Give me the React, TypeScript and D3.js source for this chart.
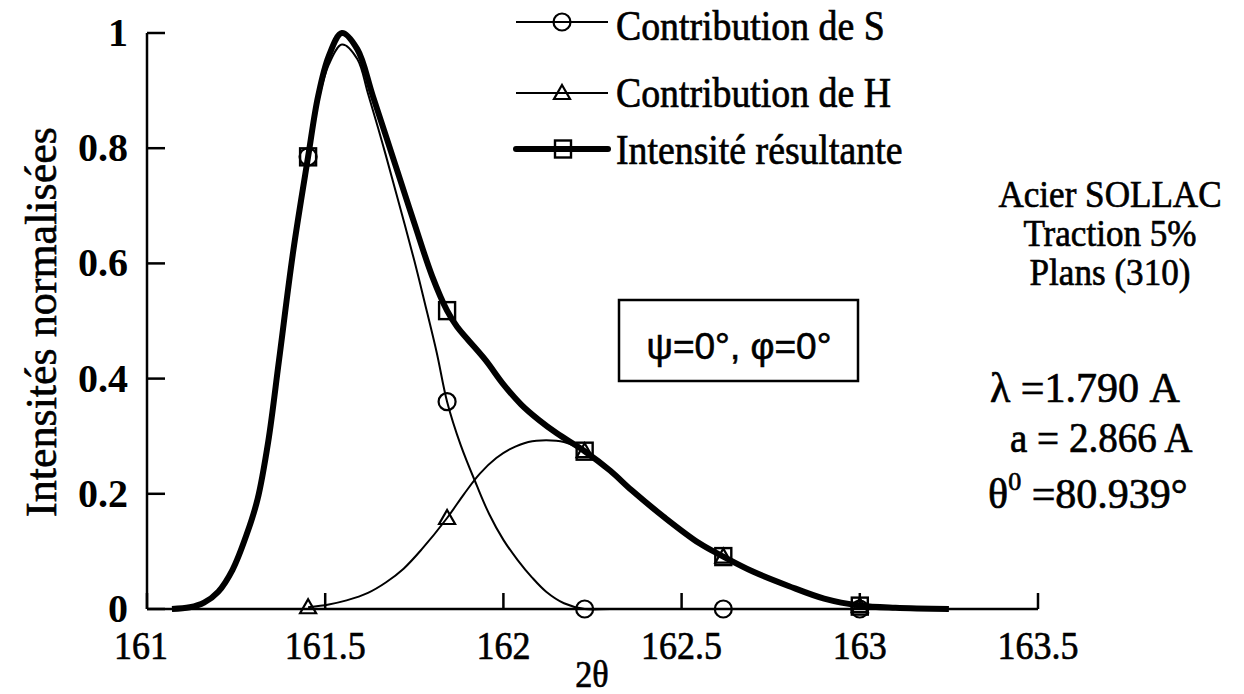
import React from "react";
import * as d3 from "d3";

// tick values
const xTicks = [161, 161.5, 162, 162.5, 163, 163.5];
const yTicks = [0, 0.2, 0.4, 0.6, 0.8, 1];

// measured points (markers)
const markerX = [161.452, 161.842, 162.228, 162.617, 163.0];
const sMarkers = [0.785, 0.36, 0, 0, 0];
const hMarkers = [0.003, 0.158, 0.274, 0.091, 0.005];
const totalMarkers = [0.785, 0.518, 0.274, 0.091, 0.005];

// fitted curves
const totalX = [161.07, 161.12, 161.16, 161.2, 161.24, 161.28, 161.31, 161.34, 161.37, 161.41, 161.452, 161.48, 161.51, 161.547, 161.59, 161.634, 161.7, 161.75, 161.8, 161.842, 161.87, 161.9, 161.95, 162.0, 162.05, 162.1, 162.15, 162.228, 162.3, 162.36, 162.45, 162.55, 162.617, 162.7, 162.8, 162.9, 163.0, 163.1, 163.25];
const totalY = [0, 0.003, 0.011, 0.03, 0.068, 0.13, 0.19, 0.29, 0.43, 0.62, 0.785, 0.89, 0.96, 1.0, 0.972, 0.89, 0.765, 0.67, 0.578, 0.518, 0.49, 0.468, 0.432, 0.39, 0.355, 0.328, 0.305, 0.274, 0.24, 0.206, 0.16, 0.114, 0.091, 0.065, 0.04, 0.018, 0.006, 0.002, 0];

const sX = [161.07, 161.12, 161.16, 161.2, 161.24, 161.28, 161.31, 161.34, 161.37, 161.41, 161.452, 161.48, 161.51, 161.547, 161.59, 161.62, 161.66, 161.7, 161.75, 161.78, 161.813, 161.842, 161.88, 161.925, 161.96, 162.0, 162.04, 162.08, 162.12, 162.17, 162.228, 162.3, 162.617, 163.0];
const sY = [0, 0.003, 0.011, 0.03, 0.068, 0.13, 0.19, 0.29, 0.43, 0.62, 0.785, 0.88, 0.945, 0.98, 0.955, 0.895, 0.81, 0.72, 0.605, 0.53, 0.445, 0.36, 0.285, 0.215, 0.165, 0.12, 0.085, 0.055, 0.03, 0.01, 0, 0, 0, 0];

const hX = [161.452, 161.51, 161.56, 161.62, 161.67, 161.72, 161.77, 161.842, 161.89, 161.934, 161.98, 162.02, 162.07, 162.12, 162.17, 162.228, 162.3, 162.36, 162.45, 162.55, 162.617, 162.7, 162.8, 162.9, 163.0];
const hY = [0.003, 0.008, 0.015, 0.028, 0.046, 0.07, 0.103, 0.158, 0.2, 0.235, 0.262, 0.278, 0.29, 0.293, 0.29, 0.274, 0.24, 0.206, 0.16, 0.114, 0.091, 0.065, 0.04, 0.018, 0.006];

const legendLabels = ["Contribution de S", "Contribution de H", "Intensité résultante"];
const infoLines = ["Acier SOLLAC", "Traction 5%", "Plans (310)"];

const serif = "'Liberation Serif', 'Times New Roman', serif";
const sans = "'Liberation Sans', Arial, sans-serif";

const T = ({ x, y, size, anchor = "start", weight = "normal", family = serif, sx = 0.9, children }: any) => (
  <text
    transform={`translate(${x},${y}) scale(${sx},1)`}
    fontSize={size}
    fontFamily={family}
    fontWeight={weight}
    textAnchor={anchor}
    fill="#000"
    stroke="#000"
    strokeWidth={0.7}
  >
    {children}
  </text>
);

const Circle = ({ x, y }: any) => <circle cx={x} cy={y} r={8.5} fill="none" stroke="#000" strokeWidth={2.2} />;
const Tri = ({ x, y }: any) => (
  <path d={`M${x},${y - 8}L${x + 8},${y + 6}L${x - 8},${y + 6}Z`} fill="none" stroke="#000" strokeWidth={2.2} />
);
const Square = ({ x, y }: any) => <rect x={x - 8} y={y - 8.5} width={16} height={17} fill="none" stroke="#000" strokeWidth={2.4} />;

export default function App() {
  const x = d3.scaleLinear().domain([161, 163.5]).range([147, 1038]);
  const y = d3.scaleLinear().domain([0, 1]).range([609, 33]);

  const line = d3
    .line<[number, number]>()
    .x((d) => x(d[0]))
    .y((d) => y(d[1]))
    .curve(d3.curveCatmullRom.alpha(0.5));

  const total = line(totalX.map((v, i) => [v, totalY[i]]));
  const sCurve = line(sX.map((v, i) => [v, sY[i]]));
  const hCurve = line(hX.map((v, i) => [v, hY[i]]));

  const legendY = [22, 93, 149];
  const legendBase = [40, 107, 164];

  return (
    <svg width={1244} height={694} style={{ position: "absolute", left: 0, top: 0, background: "#fff" }}>
      {/* axes */}
      <line x1={x(161)} x2={x(163.5)} y1={y(0)} y2={y(0)} stroke="#000" strokeWidth={2.5} />
      <line x1={x(161)} x2={x(161)} y1={y(0)} y2={y(1)} stroke="#000" strokeWidth={2.5} />
      {yTicks.map((t) => (
        <g key={"y" + t}>
          <line x1={x(161)} x2={x(161) + 18} y1={y(t)} y2={y(t)} stroke="#000" strokeWidth={2.5} />
          <text x={128} y={y(t) + 13} fontSize={40} fontFamily={serif} fontWeight="bold" textAnchor="end">
            {t}
          </text>
        </g>
      ))}
      {xTicks.map((t) => (
        <g key={"x" + t}>
          <line x1={x(t)} x2={x(t)} y1={y(0)} y2={y(0) - 16} stroke="#000" strokeWidth={2.5} />
          <T x={t === 161 ? x(t) - 6 : x(t)} y={659} size={40} anchor="middle">
            {t}
          </T>
        </g>
      ))}
      <T x={592} y={687} size={38} anchor="middle">2θ</T>
      <text
        transform="translate(56,322) rotate(-90)"
        fontSize={44}
        fontFamily={serif}
        textAnchor="middle"
        stroke="#000"
        strokeWidth={0.6}
      >
        Intensités normalisées
      </text>

      {/* curves */}
      <path d={sCurve || ""} fill="none" stroke="#000" strokeWidth={2} />
      <path d={hCurve || ""} fill="none" stroke="#000" strokeWidth={2} />
      <path d={total || ""} fill="none" stroke="#000" strokeWidth={6} strokeLinejoin="round" />

      {/* markers */}
      {markerX.map((m, i) => (
        <g key={"m" + i}>
          <Circle x={x(m)} y={y(sMarkers[i])} />
          <Tri x={x(m)} y={y(hMarkers[i])} />
          <Square x={x(m)} y={y(totalMarkers[i])} />
        </g>
      ))}

      {/* legend */}
      <line x1={516} x2={608} y1={legendY[0]} y2={legendY[0]} stroke="#000" strokeWidth={2} />
      <Circle x={562} y={legendY[0]} />
      <line x1={516} x2={608} y1={legendY[1]} y2={legendY[1]} stroke="#000" strokeWidth={2} />
      <Tri x={562} y={legendY[1]} />
      <line x1={516} x2={608} y1={legendY[2]} y2={legendY[2]} stroke="#000" strokeWidth={6} strokeLinecap="round" />
      <Square x={563} y={legendY[2]} />
      {legendLabels.map((l, i) => (
        <T key={l} x={616} y={legendBase[i]} size={42}>
          {l}
        </T>
      ))}

      {/* annotation box */}
      <rect x={619} y={300} width={239} height={81} fill="none" stroke="#000" strokeWidth={2.5} />
      <text x={739} y={359} fontSize={37} fontFamily={sans} textAnchor="middle" stroke="#000" strokeWidth={0.6}>
        ψ=0°, φ=0°
      </text>

      {/* right side info */}
      {infoLines.map((l, i) => (
        <T key={l} x={1110} y={[207, 246, 285][i]} size={39} anchor="middle">
          {l}
        </T>
      ))}
      <T x={990} y={402} size={42} sx={1}>λ =1.790 A</T>
      <T x={1010} y={452} size={42} sx={0.93}>a = 2.866 A</T>
      <T x={988} y={508} size={42} sx={1}>
        θ<tspan fontSize={26} dy={-18}>0</tspan>
        <tspan dy={18}> =80.939°</tspan>
      </T>
    </svg>
  );
}
